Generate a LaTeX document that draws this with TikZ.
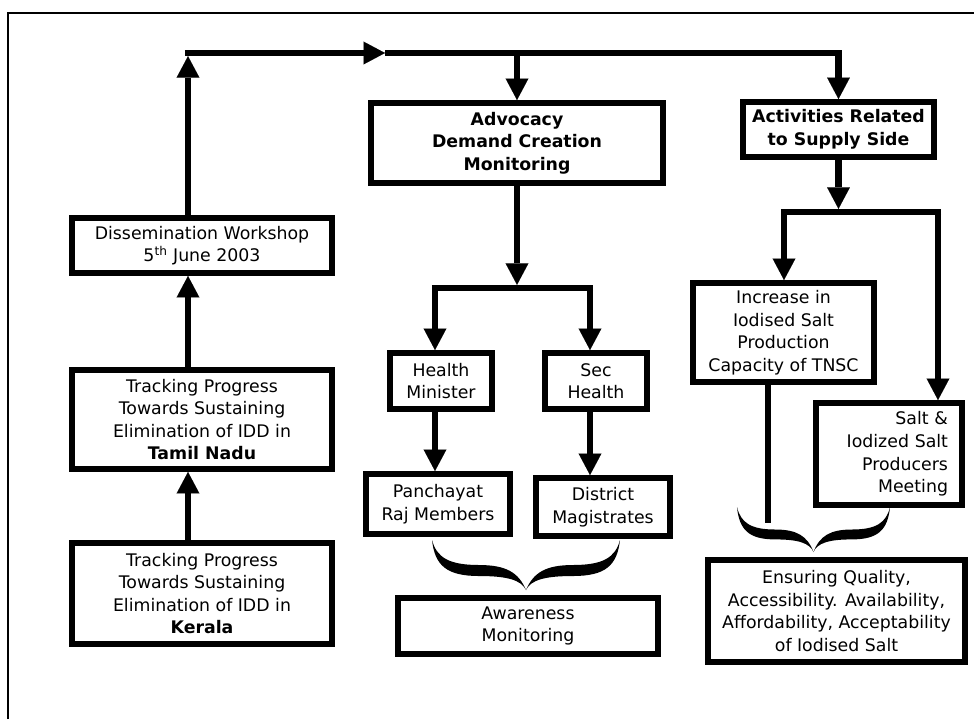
\documentclass[tikz,border=0pt]{standalone}
\usepackage{fontspec}
\setmainfont{DejaVu Sans}
\usetikzlibrary{arrows.meta}
\newcommand\bracehalf{%
  \fill (-1,0) .. controls (-0.97,0.5) and (-0.85,0.72) .. (-0.5,0.72)
    .. controls (-0.2,0.72) and (-0.05,0.8) .. (0,1)
    .. controls (-0.08,0.64) and (-0.22,0.5) .. (-0.5,0.5)
    .. controls (-0.82,0.5) and (-0.95,0.35) .. (-1,0) -- cycle;}
\begin{document}
\begin{tikzpicture}[x=0.75pt,y=-0.75pt,
  box/.style={draw,line width=4.5pt,align=center,inner sep=0pt,
    font=\fontsize{13pt}{16.9pt}\selectfont},
  ln/.style={line width=4.8pt},
  arr/.style={line width=4.8pt,-{Triangle[width=17pt,length=16pt,line width=0.01pt]}},
  frameline/.style={line width=1.5pt}]
\useasboundingbox (0,0) rectangle (974,719);
\draw[frameline] (8,719) -- (8,13) -- (974,13);

% left column
\node[box,minimum width=195pt,minimum height=41.25pt] (dis) at (202,245.5)
  {Dissemination Workshop\\5\textsuperscript{th} June 2003};
\node[box,minimum width=195pt,minimum height=74.25pt] (tn) at (202,419.5)
  {Tracking Progress\\Towards Sustaining\\Elimination of IDD in\\\textbf{Tamil Nadu}};
\node[box,minimum width=195pt,minimum height=75.75pt] (ker) at (202,593.5)
  {Tracking Progress\\Towards Sustaining\\Elimination of IDD in\\\textbf{Kerala}};

% middle column
\node[box,minimum width=219pt,minimum height=60pt,font=\fontsize{13pt}{16.9pt}\selectfont\bfseries] (adv) at (517,143)
  {Advocacy\\Demand Creation\\Monitoring};
\node[box,minimum width=76.5pt,minimum height=42pt] (hm) at (441,381) {Health\\Minister};
\node[box,minimum width=76.5pt,minimum height=42pt] (sec) at (596,381) {Sec\\Health};
\node[box,minimum width=108pt,minimum height=45pt] (pan) at (438,504) {Panchayat\\Raj Members};
\node[box,minimum width=100.5pt,minimum height=43.5pt] (dist) at (603,507) {District\\Magistrates};
\node[box,minimum width=195pt,minimum height=42pt] (aw) at (528,626) {Awareness\\Monitoring};

% right column
\node[box,minimum width=143.25pt,minimum height=41.25pt,font=\fontsize{13pt}{16.9pt}\selectfont\bfseries] (act) at (838.5,129.5)
  {Activities Related\\to Supply Side};
\node[box,minimum width=135.75pt,minimum height=74.25pt] (inc) at (783.5,332.5)
  {Increase in\\Iodised Salt\\Production\\Capacity of TNSC};
\node[box,minimum height=76.5pt,text width=88.5pt,inner xsep=10.5pt,align=right] (salt) at (889,454)
  {Salt \&\\Iodized Salt\\Producers\\Meeting};
\node[box,minimum width=192.75pt,minimum height=76.5pt] (ens) at (836.5,611)
  {Ensuring Quality,\\Accessibility. Availability,\\Affordability, Acceptability\\of Iodised Salt};

% coordinates
\coordinate (tl) at (188,53);
\coordinate (ma) at (385,53);
\coordinate (tr) at (838.5,53);
\coordinate (bL) at (435,288);
\coordinate (bR) at (590,288);
\coordinate (rbL) at (784,212);
\coordinate (rbR) at (938,212);
\coordinate (incend) at (768,523);

% left connectors
\draw[arr] (ker.north -| tl) -- (tn.south -| tl);
\draw[arr] (tn.north -| tl) -- (dis.south -| tl);
\draw[arr] (dis.north -| tl) -- ([yshift=-2.4pt]tl);
\draw[arr] ([xshift=-2.4pt]tl) -- (ma);
\draw[arr] (ma) -- (tr) -- (act.north);
\draw[arr] (adv.north |- tl) -- (adv.north);

% middle connectors
\draw[arr] (adv.south) -- ([yshift=2.4pt]adv.south |- bL);
\draw[arr] ([xshift=2.4pt]bR) -- (bL) -- (hm.north -| bL);
\draw[arr] ([xshift=-2.4pt]bL) -- (bR) -- (sec.north -| bR);
\draw[arr] (hm.south -| bL) -- (pan.north -| bL);
\draw[arr] (sec.south -| bR) -- (dist.north -| bR);

% right connectors
\draw[arr] (act.south) -- ([yshift=2.4pt]act.south |- rbL);
\draw[arr] ([xshift=2.4pt]rbR) -- (rbL) -- (inc.north -| rbL);
\draw[arr] ([xshift=-2.4pt]rbL) -- (rbR) -- (salt.north -| rbR);
\draw[ln] (inc.south -| incend) -- (incend);

% braces
\begin{scope}[shift={(526,540)},x=70.5pt,y=-37.5pt]
  \bracehalf
\end{scope}
\begin{scope}[shift={(526,540)},x=-70.5pt,y=-37.5pt]
  \bracehalf
\end{scope}
\begin{scope}[shift={(813.5,507)},x=57.4pt,y=-33.75pt]
  \bracehalf
\end{scope}
\begin{scope}[shift={(813.5,507)},x=-57.4pt,y=-33.75pt]
  \bracehalf
\end{scope}
\end{tikzpicture}
\end{document}
